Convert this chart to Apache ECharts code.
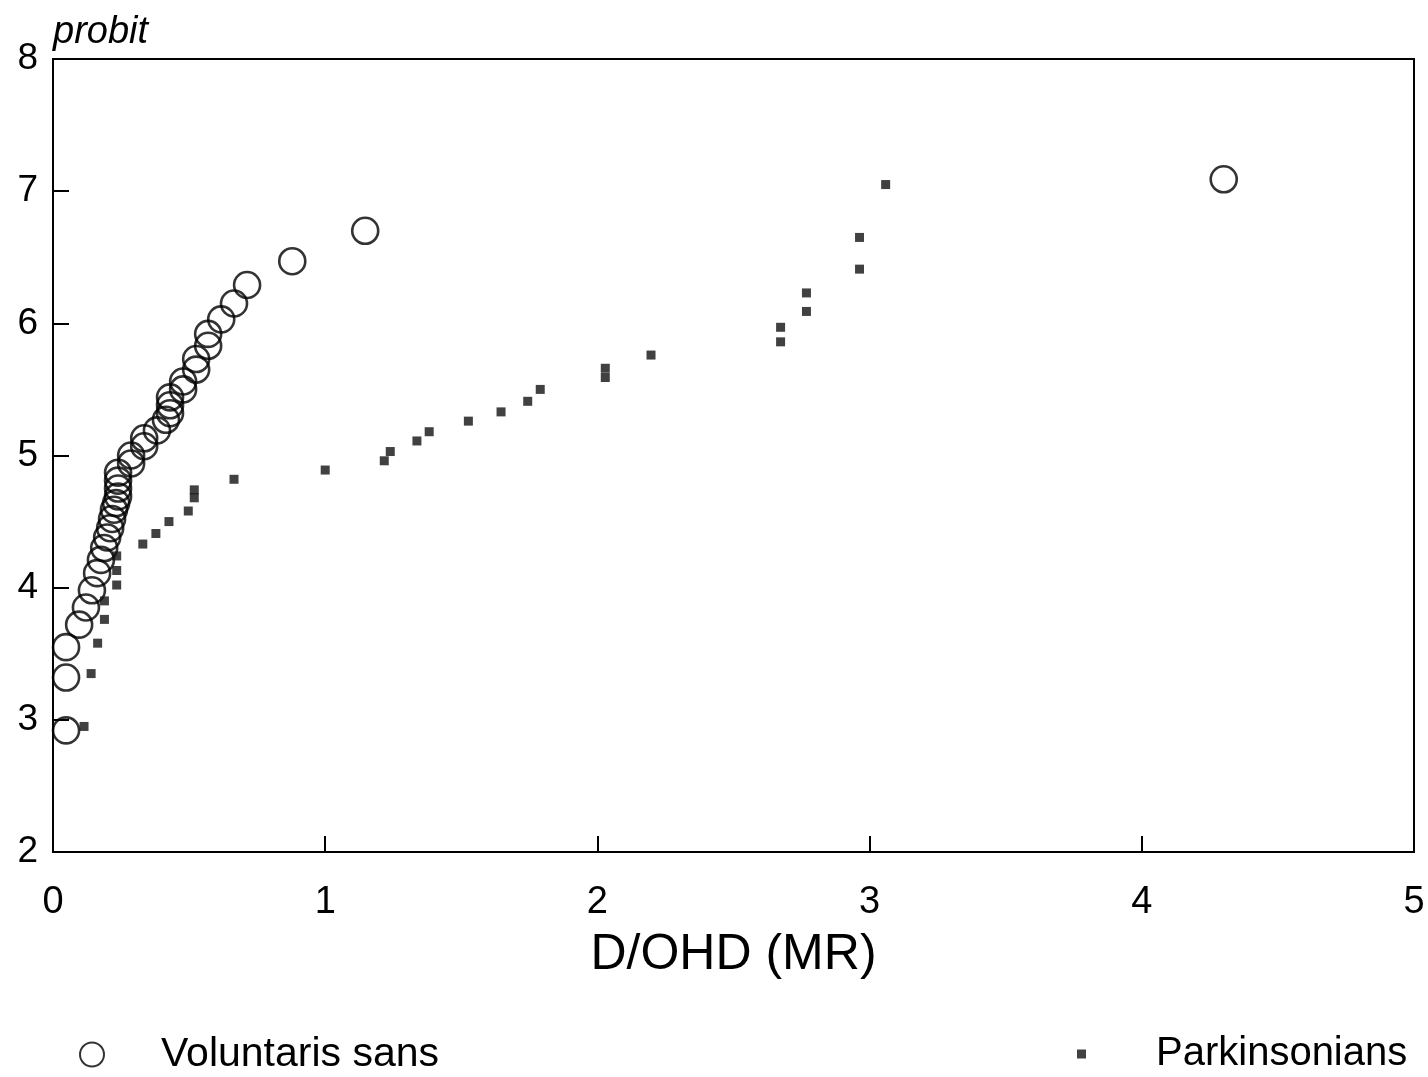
<!DOCTYPE html>
<html>
<head>
<meta charset="utf-8">
<script src="https://cdn.jsdelivr.net/npm/echarts@6/dist/echarts.min.js"></script>
<style>
html, body { margin: 0; padding: 0; background: #fff; }
#chartContent { width: 1428px; height: 1077px; }
</style>
</head>
<body>
<div id="chartContent"></div>
<script>
// Voluntaris sans - D/OHD (MR) and probit
var volX = [0.048, 0.048, 0.048, 0.096, 0.121, 0.143, 0.162, 0.176, 0.188, 0.199,
	0.210, 0.217, 0.224, 0.232, 0.239, 0.239, 0.239, 0.239, 0.287, 0.287,
	0.335, 0.335, 0.382, 0.415, 0.430, 0.430, 0.430, 0.478, 0.478, 0.526,
	0.526, 0.570, 0.570, 0.618, 0.665, 0.713, 0.879, 1.147, 4.301];
var volY = [2.92, 3.32, 3.55, 3.72, 3.85, 3.98, 4.11, 4.21, 4.30, 4.38,
	4.45, 4.52, 4.59, 4.64, 4.69, 4.75, 4.81, 4.87, 4.94, 5.00,
	5.07, 5.13, 5.19, 5.27, 5.32, 5.38, 5.44, 5.50, 5.56, 5.65,
	5.73, 5.83, 5.92, 6.03, 6.15, 6.29, 6.47, 6.70, 7.09];
// Parkinsonians
var parkX = [0.114, 0.140, 0.164, 0.189, 0.189, 0.234, 0.234, 0.234, 0.330, 0.378,
	0.426, 0.497, 0.519, 0.519, 0.665, 1.000, 1.217, 1.239, 1.337, 1.382,
	1.526, 1.646, 1.744, 1.790, 2.029, 2.029, 2.197, 2.673, 2.673, 2.768,
	2.768, 2.963, 2.963, 3.059];
var parkY = [2.95, 3.35, 3.58, 3.76, 3.90, 4.02, 4.13, 4.24, 4.33, 4.41,
	4.50, 4.58, 4.68, 4.74, 4.82, 4.89, 4.96, 5.03, 5.11, 5.18,
	5.26, 5.33, 5.41, 5.50, 5.59, 5.66, 5.76, 5.86, 5.97, 6.09,
	6.23, 6.41, 6.65, 7.05];
var seriesNames = ['Voluntaris sans', 'Parkinsonians'];
var xName = 'D/OHD (MR)';
var yName = 'probit';

function pairs(xs, ys) {
	var out = [];
	for (var i = 0; i < xs.length; i++) {
		out.push([xs[i], ys[i]]);
	}
	return out;
}

var font = 'Liberation Sans, Arial, sans-serif';
var myChart = echarts.init(document.getElementById('chartContent'));
var option = {
	backgroundColor: '#fff',
	animation: false,
	grid: {
		left: 53,
		right: 14,
		top: 59,
		bottom: 225,
		show: true,
		borderColor: '#000',
		borderWidth: 2
	},
	legend: [{
		data: [seriesNames[0]],
		left: 74,
		top: 1029,
		itemWidth: 24,
		itemHeight: 24,
		selectedMode: false,
		itemStyle: { color: 'rgba(0,0,0,0)', borderColor: '#000', borderWidth: 2 },
		textStyle: { fontFamily: font, fontSize: 41, color: '#000', padding: [0, 0, 0, 52] }
	}, {
		data: [seriesNames[1]],
		left: 1072,
		top: 1029,
		itemWidth: 9,
		itemHeight: 9,
		selectedMode: false,
		itemStyle: { color: '#111', borderWidth: 0 },
		textStyle: { fontFamily: font, fontSize: 40, color: '#000', padding: [0, 0, 0, 65] }
	}],
	xAxis: {
		type: 'value',
		min: 0,
		max: 5,
		interval: 1,
		name: xName,
		nameLocation: 'middle',
		nameGap: 78,
		nameTextStyle: { fontFamily: font, fontSize: 50, color: '#000' },
		axisLine: { lineStyle: { color: '#000', width: 2 } },
		axisTick: { inside: true, length: 16, lineStyle: { color: '#000', width: 2 } },
		axisLabel: { fontFamily: font, fontSize: 38, color: '#000', margin: 32 },
		splitLine: { show: false }
	},
	yAxis: {
		type: 'value',
		min: 2,
		max: 8,
		interval: 1,
		name: yName,
		nameLocation: 'end',
		nameGap: 8,
		nameTextStyle: { fontFamily: font, fontSize: 38, fontStyle: 'italic', color: '#000', align: 'left', verticalAlign: 'bottom' },
		axisLine: { lineStyle: { color: '#000', width: 2 } },
		axisTick: { inside: true, length: 16, lineStyle: { color: '#000', width: 2 } },
		axisLabel: { fontFamily: font, fontSize: 37, color: '#000', margin: 15, padding: [14, 0, 0, 0] },
		splitLine: { show: false }
	},
	series: [{
		name: seriesNames[0],
		type: 'scatter',
		symbol: 'circle',
		symbolSize: 26,
		itemStyle: { color: 'rgba(0,0,0,0)', borderColor: '#000', borderWidth: 2.6 },
		data: pairs(volX, volY)
	}, {
		name: seriesNames[1],
		type: 'scatter',
		symbol: 'rect',
		symbolSize: 9,
		itemStyle: { color: '#111' },
		data: pairs(parkX, parkY)
	}]
};
myChart.setOption(option);
</script>
</body>
</html>
